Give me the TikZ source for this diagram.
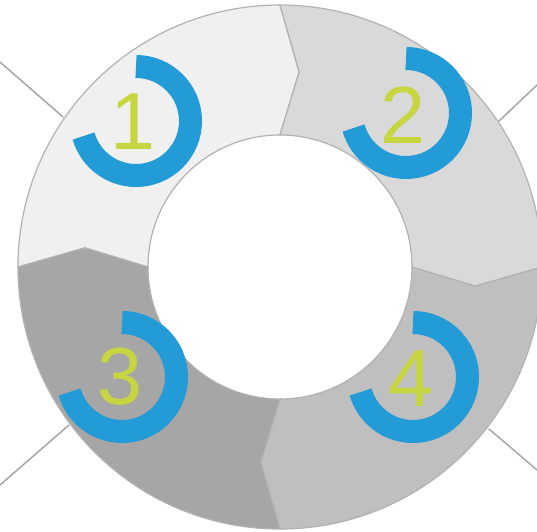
\documentclass[tikz,border=0pt]{standalone}
\usepackage{fontspec}
\setmainfont{Liberation Sans}
\usepackage{tkz-euclide}
\definecolor{SegAClr}{rgb}{0.941,0.941,0.941}
\definecolor{SegBClr}{rgb}{0.851,0.851,0.851}
\definecolor{SegCClr}{rgb}{0.651,0.651,0.651}
\definecolor{SegDClr}{rgb}{0.749,0.749,0.749}
\definecolor{EdgeClr}{rgb}{0.7,0.7,0.7}
\definecolor{LineClr}{rgb}{0.65,0.65,0.65}
\definecolor{ArcClr}{rgb}{0.137,0.608,0.843}
\definecolor{NumClr}{rgb}{0.78,0.835,0.25}

\begin{document}
\begin{tikzpicture}[x=1pt,y=1pt]
\tkzSetUpLine[line width=1.5pt,color=LineClr]
\useasboundingbox (-280,-264) rectangle (257,267);

\tkzDefPoints{-280/205/T1,-217/150/T2,257/182/R1,219/146/R2}
\tkzDefPoints{-280/-218/B1,-211/-158/B2,257/-203/Q1,209/-162/Q2}
\tkzDefPoints{-144/146/C1,126/154/C2,-158/-110/C3,133/-110/C4}

\tkzDrawSegments(T1,T2 R1,R2 B1,B2 Q1,Q2)

% ring parts
\filldraw[fill=SegAClr,draw=EdgeClr,line width=1.2pt] (180:262) arc[start angle=180,end angle=90,radius=262]
  -- (84.4:196) -- (90:132) arc[start angle=90,end angle=180,radius=132] -- (174.4:196) -- cycle;
\filldraw[fill=SegBClr,draw=EdgeClr,line width=1.2pt] (90:262) arc[start angle=90,end angle=0,radius=262]
  -- (-5.6:196) -- (0:132) arc[start angle=0,end angle=90,radius=132] -- (84.4:196) -- cycle;
\filldraw[fill=SegDClr,draw=EdgeClr,line width=1.2pt] (0:262) arc[start angle=0,end angle=-90,radius=262]
  -- (-95.6:196) -- (-90:132) arc[start angle=-90,end angle=0,radius=132] -- (-5.6:196) -- cycle;
\filldraw[fill=SegCClr,draw=EdgeClr,line width=1.2pt] (-90:262) arc[start angle=-90,end angle=-180,radius=262]
  -- (174.4:196) -- (180:132) arc[start angle=180,end angle=270,radius=132] -- (-95.6:196) -- cycle;

% rings round the numbers
\draw[line width=23pt,color=ArcClr] (C1) ++(90:54.5) arc[start angle=90,end angle=-164,radius=54.5];
\draw[line width=23pt,color=ArcClr] (C2) ++(90:54.5) arc[start angle=90,end angle=-164,radius=54.5];
\draw[line width=23pt,color=ArcClr] (C3) ++(90:54.5) arc[start angle=90,end angle=-164,radius=54.5];
\draw[line width=23pt,color=ArcClr] (C4) ++(90:54.5) arc[start angle=90,end angle=-164,radius=54.5];

\node[font=\fontsize{81}{81}\selectfont,text=NumClr,inner sep=0pt] (n1) at ([xshift=-3pt,yshift=-1pt]C1) {1};
\node[font=\fontsize{81}{81}\selectfont,text=NumClr,inner sep=0pt] (n2) at ([xshift=-3pt,yshift=-2pt]C2) {2};
\node[font=\fontsize{81}{81}\selectfont,text=NumClr,inner sep=0pt] (n3) at ([xshift=-2pt]C3) {3};
\node[font=\fontsize{81}{81}\selectfont,text=NumClr,inner sep=0pt] (n4) at ([xshift=-2pt,yshift=-2pt]C4) {4};

\end{tikzpicture}
\end{document}
